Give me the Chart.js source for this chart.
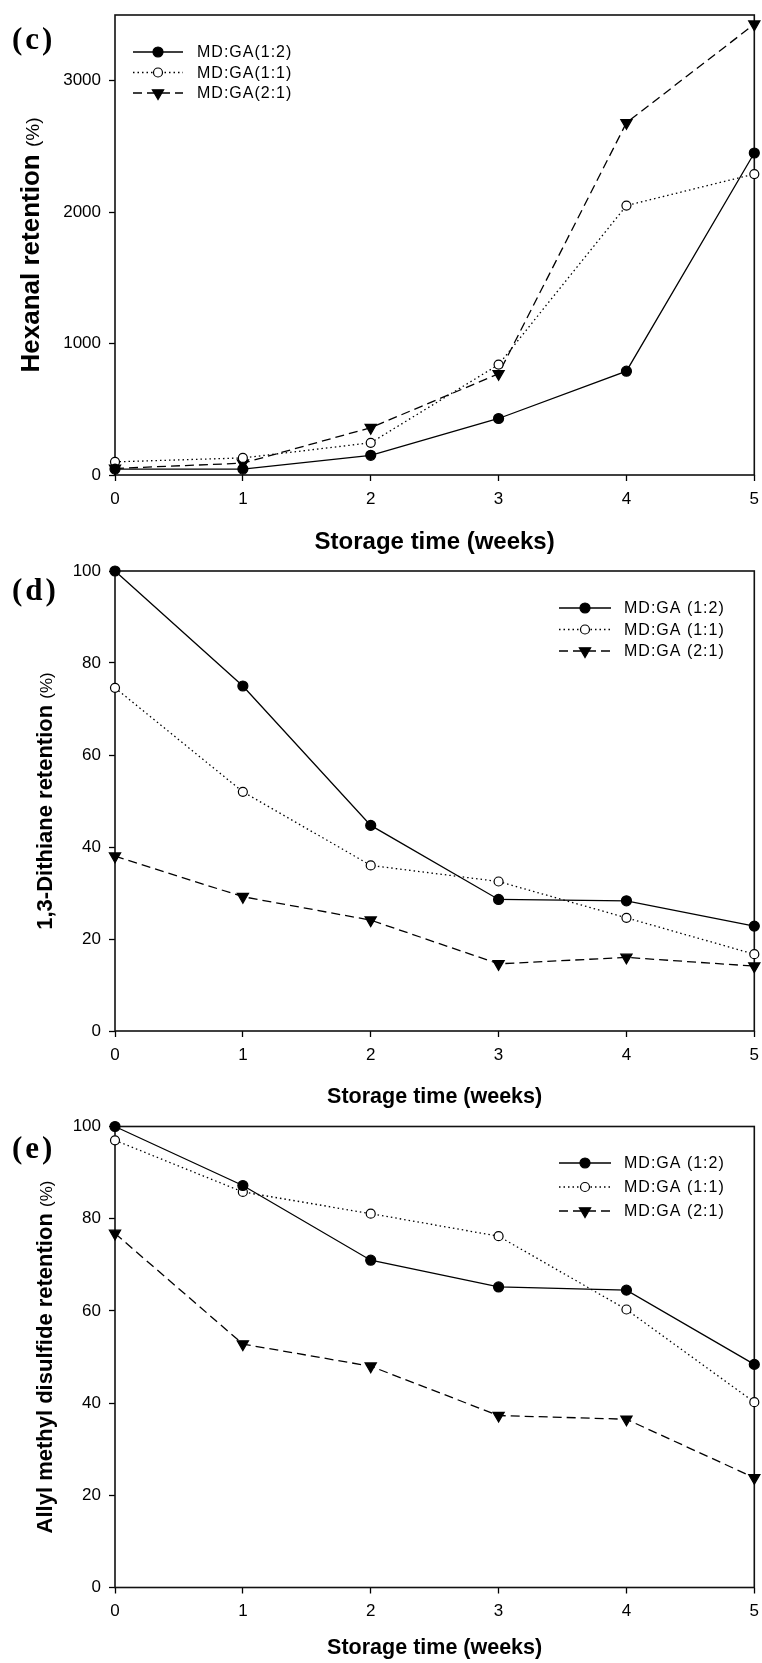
<!DOCTYPE html>
<html>
<head>
<meta charset="utf-8">
<script src="https://cdn.jsdelivr.net/npm/chart.js@4.4.1/dist/chart.umd.min.js"></script>
<style>
  html, body { margin: 0; padding: 0; background: #fff; }
  #page { position: relative; width: 762px; height: 1663px; overflow: hidden; }
  canvas { position: absolute; left: 0; }
  .tag { position: absolute; left: 12px; font: bold 31px "Liberation Serif", "Times New Roman", serif;
         letter-spacing: 3px; color: #000; line-height: 1; }
</style>
</head>
<body>
<div id="page">
  <canvas id="chartC" width="762" height="560" style="top:0;width:762px;height:560px"></canvas>
  <canvas id="chartD" width="762" height="555" style="top:560px;width:762px;height:555px"></canvas>
  <canvas id="chartE" width="762" height="548" style="top:1115px;width:762px;height:548px"></canvas>
  <div class="tag" style="top:23px">(c)</div>
  <div class="tag" style="top:574px">(d)</div>
  <div class="tag" style="top:1132px">(e)</div>
</div>
<script>
// Storage time axis
const weeks = [0, 1, 2, 3, 4, 5];

// Series names (panel c is written without the space)
const namesC = ['MD:GA(1:2)', 'MD:GA(1:1)', 'MD:GA(2:1)'];
const namesDE = ['MD:GA (1:2)', 'MD:GA (1:1)', 'MD:GA (2:1)'];

// (c) Hexanal retention (%)
const hexanal12 = [45, 45, 150, 430, 790, 2450];
const hexanal11 = [100, 130, 245, 840, 2050, 2290];
const hexanal21 = [50, 90, 360, 770, 2680, 3430];

// (d) 1,3-Dithiane retention (%)
const dithiane12 = [100, 75, 44.7, 28.6, 28.3, 22.8];
const dithiane11 = [74.6, 52, 36, 32.5, 24.6, 16.7];
const dithiane21 = [38, 29.2, 24.1, 14.6, 16, 14.1];

// (e) Allyl methyl disulfide retention (%)
const allyl12 = [100, 87.2, 71, 65.2, 64.5, 48.4];
const allyl11 = [97, 85.8, 81.1, 76.2, 60.3, 40.2];
const allyl21 = [76.8, 52.8, 48, 37.3, 36.5, 23.8];

// Tick labels
const hexanalTicks = [0, 1000, 2000, 3000];
const retentionTicks = [0, 20, 40, 60, 80, 100];

const SANS = '"Liberation Sans", Arial, Helvetica, sans-serif';

// Line / marker look for the three blends
const seriesLook = [
  { borderDash: [], pointStyle: 'circle', pointRadius: 5, pointBackgroundColor: '#000', pointRotation: 0 },
  { borderDash: [1.5, 3], pointStyle: 'circle', pointRadius: 4.5, pointBackgroundColor: '#fff', pointRotation: 0 },
  { borderDash: [9, 5], pointStyle: 'triangle', pointRadius: 6.5, pointBackgroundColor: '#000', pointRotation: 180 }
];

// Closed frame around the plotting area
const framePlugin = {
  id: 'frame',
  beforeDatasetsDraw(chart) {
    const { ctx, chartArea: a } = chart;
    ctx.save();
    ctx.strokeStyle = '#111';
    ctx.lineWidth = 1.6;
    ctx.strokeRect(a.left, a.top, a.right - a.left, a.bottom - a.top);
    ctx.restore();
  }
};

// Vertical axis caption: bold name followed by a lighter "(%)"
const yCaptionPlugin = {
  id: 'ycaption',
  afterDraw(chart, args, o) {
    const { ctx, chartArea: a } = chart;
    const boldFont = 'bold ' + o.boldSize + 'px ' + SANS;
    const unitFont = o.unitSize + 'px ' + SANS;
    ctx.save();
    ctx.font = boldFont;
    const wb = ctx.measureText(o.text).width;
    ctx.font = unitFont;
    const wu = ctx.measureText(o.unit).width;
    const total = wb + wu;
    ctx.translate(o.x, (a.top + a.bottom) / 2);
    ctx.rotate(-Math.PI / 2);
    ctx.fillStyle = '#000';
    ctx.textAlign = 'left';
    ctx.textBaseline = 'alphabetic';
    const base = o.boldSize * 0.36;
    ctx.font = boldFont;
    ctx.fillText(o.text, -total / 2, base);
    ctx.font = unitFont;
    ctx.fillText(o.unit, -total / 2 + wb, base);
    ctx.restore();
  }
};

// Key drawn from the datasets: line sample, marker, name
const keyPlugin = {
  id: 'key',
  afterDraw(chart, args, o) {
    const ctx = chart.ctx;
    chart.data.datasets.forEach((ds, i) => {
      const y = o.y0 + i * o.dy;
      ctx.save();
      ctx.strokeStyle = '#000';
      ctx.lineWidth = ds.borderWidth;
      ctx.setLineDash(ds.borderDash);
      ctx.beginPath();
      ctx.moveTo(o.x1, y);
      ctx.lineTo(o.x2, y);
      ctx.stroke();
      ctx.setLineDash([]);
      ctx.fillStyle = ds.pointBackgroundColor;
      ctx.strokeStyle = ds.pointBorderColor;
      ctx.lineWidth = ds.pointBorderWidth;
      Chart.helpers.drawPoint(ctx, {
        pointStyle: ds.pointStyle, rotation: ds.pointRotation,
        radius: ds.pointRadius, borderWidth: ds.pointBorderWidth
      }, (o.x1 + o.x2) / 2, y);
      ctx.fillStyle = '#000';
      ctx.font = '16px ' + SANS;
      if ('letterSpacing' in ctx) ctx.letterSpacing = '1px';
      ctx.textAlign = 'left';
      ctx.textBaseline = 'middle';
      ctx.fillText(ds.label, o.textX, y + 1);
      ctx.restore();
    });
  }
};

function buildPanel(id, p) {
  const datasets = p.series.map((vals, i) => Object.assign({
    label: p.names[i],
    data: vals,
    borderColor: '#000',
    borderWidth: 1.3,
    pointBorderColor: '#000',
    pointBorderWidth: 1.2,
    tension: 0,
    fill: false,
    clip: false
  }, seriesLook[i]));

  return new Chart(document.getElementById(id), {
    type: 'line',
    data: { labels: weeks.map(String), datasets },
    plugins: [framePlugin, keyPlugin, yCaptionPlugin],
    options: {
      responsive: false,
      animation: false,
      events: [],
      layout: { padding: { top: p.padTop, right: 6, bottom: 0, left: 0 } },
      plugins: { legend: { display: false }, tooltip: { enabled: false }, key: p.key, ycaption: p.yCaption },
      scales: {
        x: {
          type: 'category',
          offset: false,
          border: { display: false },
          grid: { display: true, drawOnChartArea: false, drawTicks: true, tickLength: 6,
                  tickColor: '#000', tickWidth: 1.3, offset: false },
          ticks: { color: '#000', font: { family: SANS, size: 17 }, padding: 8,
                   autoSkip: false, maxRotation: 0 },
          title: { display: true, text: 'Storage time (weeks)', color: '#000',
                   font: { family: SANS, size: p.xTitleSize, weight: 'bold' },
                   padding: { top: 0, bottom: p.xTitlePad } },
          afterFit(s) { s.height = p.xAxisH; s.paddingLeft = 0; s.paddingRight = 0; }
        },
        y: {
          min: p.min, max: p.max,
          border: { display: false },
          grid: { display: true, drawOnChartArea: false, drawTicks: true, tickLength: 6,
                  tickColor: '#000', tickWidth: 1.3 },
          ticks: { color: '#000', font: { family: SANS, size: 17 }, padding: 8,
                   callback: v => String(v) },
          afterBuildTicks(s) { s.ticks = p.ticks.map(v => ({ value: v })); },
          title: { display: false },
          afterFit(s) { s.width = 115; s.paddingTop = 0; s.paddingBottom = 0; }
        }
      }
    }
  });
}

buildPanel('chartC', {
  names: namesC,
  series: [hexanal12, hexanal11, hexanal21],
  min: 0, max: 3500, ticks: hexanalTicks,
  yCaption: { text: 'Hexanal retention ', unit: '(%)', boldSize: 26, unitSize: 19, x: 30 },
  xTitleSize: 24, xTitlePad: 3.6,
  padTop: 15, xAxisH: 85,
  key: { x1: 133, x2: 183, textX: 197, y0: 52, dy: 20.5 }
});

buildPanel('chartD', {
  names: namesDE,
  series: [dithiane12, dithiane11, dithiane21],
  min: 0, max: 100, ticks: retentionTicks,
  yCaption: { text: '1,3-Dithiane retention ', unit: '(%)', boldSize: 22, unitSize: 17, x: 44 },
  xTitleSize: 21.5, xTitlePad: 5,
  padTop: 11, xAxisH: 84,
  key: { x1: 559, x2: 611, textX: 624, y0: 48, dy: 21.5 }
});

buildPanel('chartE', {
  names: namesDE,
  series: [allyl12, allyl11, allyl21],
  min: 0, max: 100, ticks: retentionTicks,
  yCaption: { text: 'Allyl methyl disulfide retention ', unit: '(%)', boldSize: 22, unitSize: 17, x: 44 },
  xTitleSize: 21.5, xTitlePad: 2,
  padTop: 11.5, xAxisH: 75.5,
  key: { x1: 559, x2: 611, textX: 624, y0: 48, dy: 24 }
});
</script>
</body>
</html>
